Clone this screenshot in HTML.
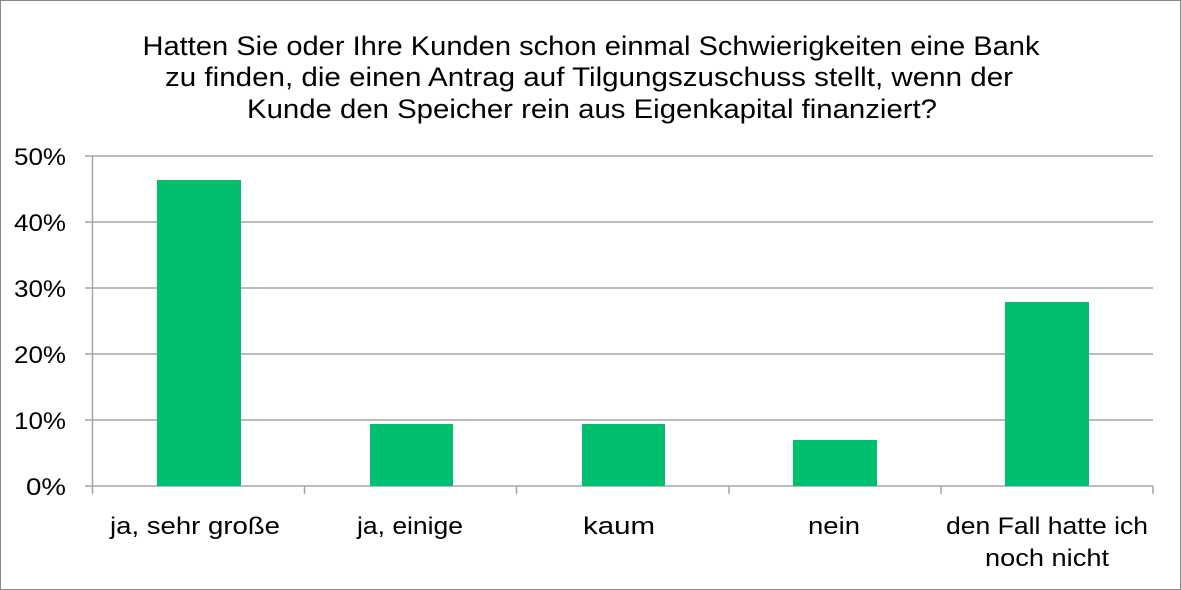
<!DOCTYPE html>
<html><head><meta charset="utf-8"><style>
html,body{margin:0;padding:0;background:#fff}
svg{display:block}
text{font-family:"Liberation Sans",sans-serif;fill:#000}
</style></head><body>
<svg width="1181" height="590" viewBox="0 0 1181 590">
<rect x="0.5" y="0.5" width="1180" height="589" fill="#fff" stroke="#888"/>
<g font-size="27" text-anchor="middle">
<text x="591" y="55" textLength="897" lengthAdjust="spacingAndGlyphs">Hatten Sie oder Ihre Kunden schon einmal Schwierigkeiten eine Bank</text>
<text x="589" y="86" textLength="848" lengthAdjust="spacingAndGlyphs">zu finden, die einen Antrag auf Tilgungszuschuss stellt, wenn der</text>
<text x="592" y="118" textLength="690" lengthAdjust="spacingAndGlyphs">Kunde den Speicher rein aus Eigenkapital finanziert?</text>
</g>
<g stroke="#a6a6a6" stroke-width="1.5">
<line x1="85" y1="156" x2="1153" y2="156"/>
<line x1="85" y1="222" x2="1153" y2="222"/>
<line x1="85" y1="288" x2="1153" y2="288"/>
<line x1="85" y1="354" x2="1153" y2="354"/>
<line x1="85" y1="420" x2="1153" y2="420"/>
<line x1="85" y1="486" x2="1153" y2="486"/>
<line x1="92.5" y1="156" x2="92.5" y2="486"/>
<line x1="92.5" y1="486" x2="92.5" y2="494"/>
<line x1="304.5" y1="486" x2="304.5" y2="494"/>
<line x1="516.5" y1="486" x2="516.5" y2="494"/>
<line x1="729" y1="486" x2="729" y2="494"/>
<line x1="941" y1="486" x2="941" y2="494"/>
<line x1="1153" y1="486" x2="1153" y2="494"/>
</g>
<g fill="#00c070">
<rect x="157" y="180" width="84" height="306"/>
<rect x="370" y="424" width="83" height="62"/>
<rect x="582" y="424" width="83" height="62"/>
<rect x="793" y="440" width="84" height="46"/>
<rect x="1005" y="302" width="84" height="184"/>
</g>
<g font-size="24" text-anchor="end">
<text x="66" y="165" textLength="52" lengthAdjust="spacingAndGlyphs">50%</text>
<text x="66" y="231" textLength="52" lengthAdjust="spacingAndGlyphs">40%</text>
<text x="66" y="297" textLength="52" lengthAdjust="spacingAndGlyphs">30%</text>
<text x="66" y="363" textLength="52" lengthAdjust="spacingAndGlyphs">20%</text>
<text x="66" y="429" textLength="52" lengthAdjust="spacingAndGlyphs">10%</text>
<text x="66" y="495" textLength="40" lengthAdjust="spacingAndGlyphs">0%</text>
</g>
<g font-size="24" text-anchor="middle">
<text x="195" y="534" textLength="170" lengthAdjust="spacingAndGlyphs">ja, sehr große</text>
<text x="410" y="534" textLength="106" lengthAdjust="spacingAndGlyphs">ja, einige</text>
<text x="619" y="534" textLength="72" lengthAdjust="spacingAndGlyphs">kaum</text>
<text x="834" y="534" textLength="52" lengthAdjust="spacingAndGlyphs">nein</text>
<text x="1047" y="534" textLength="202" lengthAdjust="spacingAndGlyphs">den Fall hatte ich</text>
<text x="1047" y="566" textLength="124" lengthAdjust="spacingAndGlyphs">noch nicht</text>
</g>
</svg>
</body></html>
